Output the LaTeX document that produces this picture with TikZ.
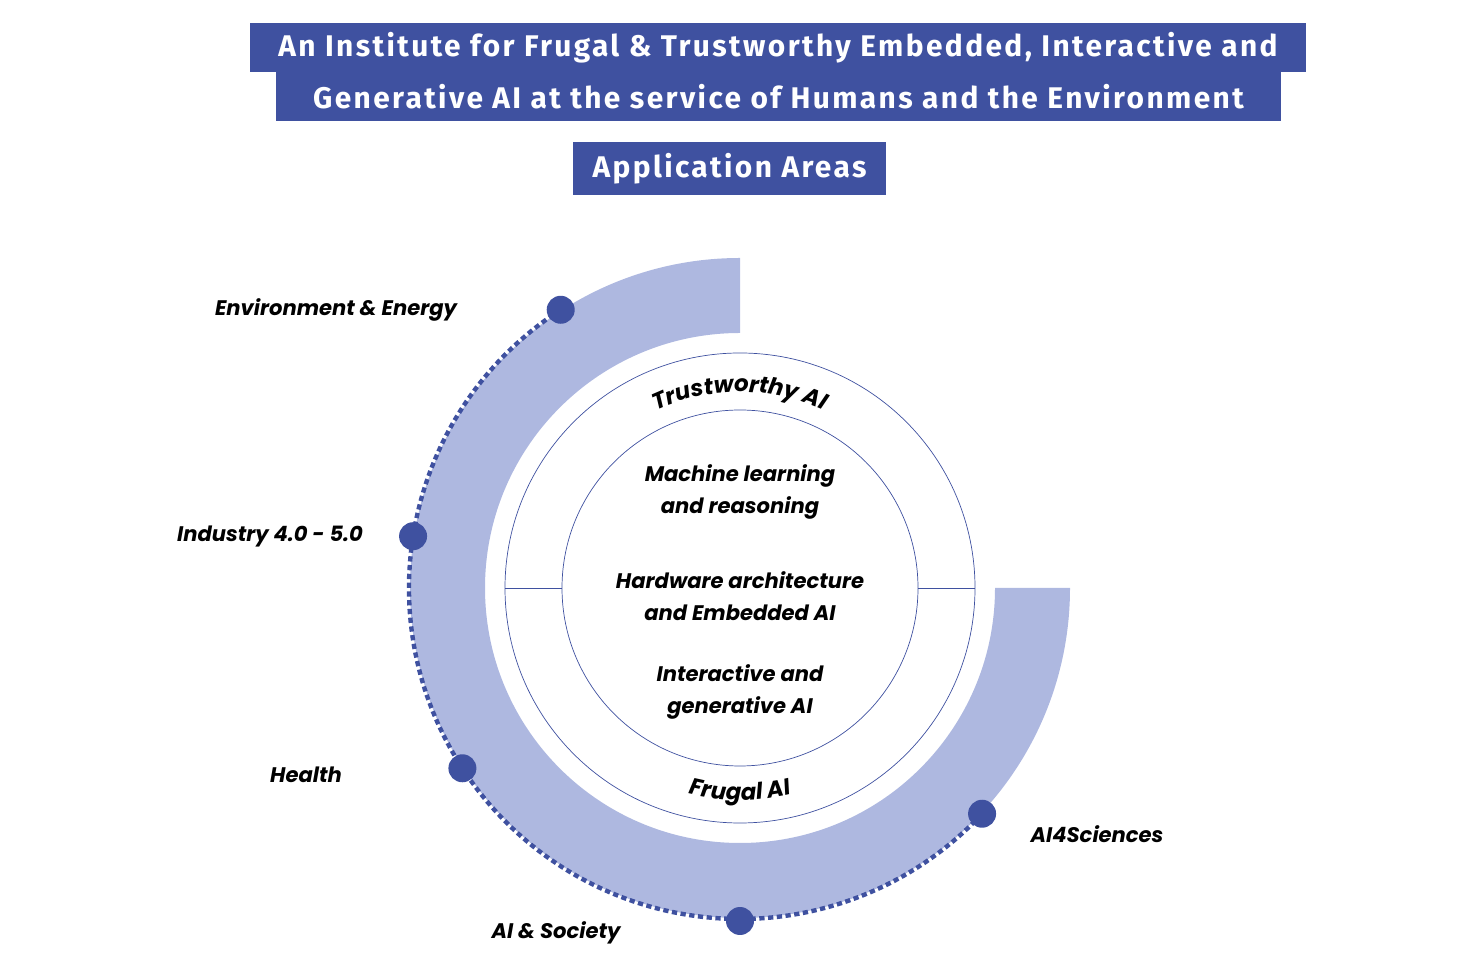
\documentclass[tikz,border=0pt]{standalone}
\usepackage{fontspec}
\setmainfont{Poppins}
\newfontfamily\titlefont[LetterSpace=8]{Fira Sans}
\usetikzlibrary{decorations.text, calc}
\definecolor{instblue}{HTML}{3F51A0}
\definecolor{bandblue}{HTML}{AEB8E0}
\begin{document}
\begin{tikzpicture}[x = 0.02cm, y = 0.02cm]
	\tikzstyle{titleStyle} = [fill = instblue, text = white, font = \titlefont\fontsize{17}{20}\selectfont\bfseries, inner sep = 0pt, minimum height = 0.98cm]
	\tikzstyle{areaStyle} = [font = \fontsize{12}{14}\selectfont\bfseries\itshape]
	\tikzstyle{coreStyle} = [font = \fontsize{12}{18}\selectfont\bfseries\itshape, align = center]
	\tikzstyle{dotStyle} = [circle, fill = instblue, minimum size = 0.56cm, inner sep = 0pt]
	\useasboundingbox (0,0) rectangle (1460,973);
	\coordinate (c) at (740,385);
	% title
	\node[titleStyle, minimum width = 21.12cm] (t1) at (778,925) {An Institute for Frugal \& Trustworthy Embedded, Interactive and};
	\node[titleStyle, minimum width = 20.1cm] (t2) at (778.5,876) {Generative AI at the service of Humans and the Environment};
	\node[titleStyle, minimum width = 6.26cm, minimum height = 1.06cm] (t3) at (729.5,804.5) {Application Areas};
	% band
	\fill[bandblue] ($(c)+(0,330)$) arc (90:360:330) -- ++(-75,0) arc (360:90:255) -- cycle;
	% dotted track
	\draw[instblue, line width = 2.5pt, dash pattern = on 3pt off 2pt] ($(c)+(122.8:331)$) arc (122.8:317:331);
	% circles
	\draw[instblue] (c) circle (235);
	\draw[instblue] (c) circle (178);
	\draw[instblue] ($(c)+(-235,0)$) -- ($(c)+(-178,0)$);
	\draw[instblue] ($(c)+(178,0)$) -- ($(c)+(235,0)$);
	\path[decorate, decoration = {text along path, text align = center, text = {|\fontsize{13}{14}\selectfont\bfseries\itshape|Trustworthy AI}}] ($(c)+(130:196)$) arc (130:50:196);
	\path[decorate, decoration = {text along path, text align = center, text = {|\fontsize{13}{14}\selectfont\bfseries\itshape|Frugal AI}}] ($(c)+(235:212)$) arc (235:305:212);
	% core
	\node[coreStyle] (ml) at (740,481) {Machine learning\\and reasoning};
	\node[coreStyle] (hw) at (740,377) {Hardware architecture\\and Embedded AI};
	\node[coreStyle] (ia) at (740,281) {Interactive and\\generative AI};
	% application areas
	\node[dotStyle] (d1) at ($(c)+(122.8:331)$) {};
	\node[dotStyle] (d2) at ($(c)+(171:331)$) {};
	\node[dotStyle] (d3) at ($(c)+(213:331)$) {};
	\node[dotStyle] (d4) at ($(c)+(270:333)$) {};
	\node[dotStyle] (d5) at ($(c)+(317:331)$) {};
	\node[areaStyle] (env) at (336,663) {Environment \& Energy};
	\node[areaStyle] (ind) at (270,436) {Industry 4.0 - 5.0};
	\node[areaStyle] (hea) at (306,198) {Health};
	\node[areaStyle] (soc) at (556,40) {AI \& Society};
	\node[areaStyle] (sci) at (1097,139) {AI4Sciences};
\end{tikzpicture}
\end{document}
